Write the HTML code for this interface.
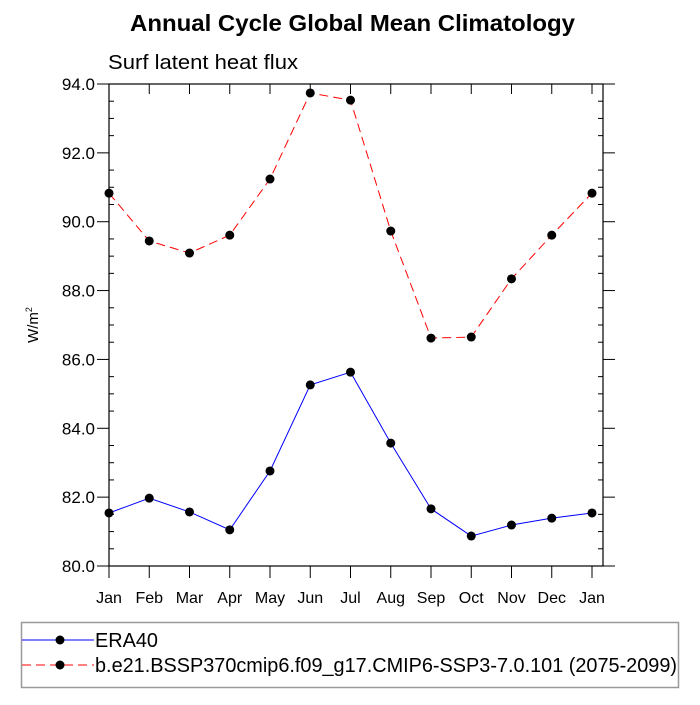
<!DOCTYPE html>
<html><head><meta charset="utf-8"><style>
body{margin:0;background:#fff;font-family:"Liberation Sans",sans-serif}
</style></head><body>
<svg id="c" width="700" height="700" xmlns="http://www.w3.org/2000/svg" font-family="Liberation Sans, sans-serif">
<text x="130" y="31" textLength="445" lengthAdjust="spacingAndGlyphs" font-size="23" font-weight="bold">Annual Cycle Global Mean Climatology</text>
<text x="108" y="69" textLength="190" lengthAdjust="spacingAndGlyphs" font-size="20">Surf latent heat flux</text>
<text transform="translate(38,325) rotate(-90)" text-anchor="middle" font-size="15">W/m<tspan font-size="9" dy="-6">2</tspan></text>
<g id="axes"></g>
<g id="series"></g>
<g>
<rect x="21.5" y="622.5" width="657" height="65" fill="none" stroke="#999" stroke-width="1.5"/>
<line x1="22" y1="640" x2="94" y2="640" stroke="#0000ff" stroke-width="1"/>
<circle cx="60" cy="640" r="4.5" fill="#000"/>
<text x="95" y="647" textLength="63" lengthAdjust="spacingAndGlyphs" font-size="20">ERA40</text>
<line x1="22" y1="665" x2="94" y2="665" stroke="#ff0000" stroke-width="1" stroke-dasharray="9,5"/>
<circle cx="60" cy="665" r="4.5" fill="#000"/>
<text x="95" y="672" textLength="582" lengthAdjust="spacingAndGlyphs" font-size="20">b.e21.BSSP370cmip6.f09_g17.CMIP6-SSP3-7.0.101 (2075-2099)</text>
</g>
</svg>
<script>
const months=["Jan","Feb","Mar","Apr","May","Jun","Jul","Aug","Sep","Oct","Nov","Dec","Jan"];
const era40=[81.54,81.97,81.57,81.05,82.76,85.26,85.63,83.57,81.66,80.87,81.19,81.39,81.54];
const model=[90.83,89.44,89.09,89.61,91.24,93.74,93.53,89.73,86.62,86.65,88.34,89.61,90.83];
const yTicks=[80,82,84,86,88,90,92,94];
const NS="http://www.w3.org/2000/svg";
const L=109,R=603,T=84,B=566;
const x=i=>L+i*40.25;
const y=v=>B-(v-80)/14*(B-T);
function mk(tag,attrs,parent){const e=document.createElementNS(NS,tag);for(const k in attrs)e.setAttribute(k,attrs[k]);parent.appendChild(e);return e;}
const ax=document.getElementById('axes');
const frame=mk('rect',{x:L,y:T,width:R-L,height:B-T,fill:'none',stroke:'#000','stroke-width':1.2},ax);


months.forEach((m,i)=>{
  mk('line',{x1:x(i),x2:x(i),y1:B,y2:B+12,stroke:'#000'},ax);
  mk('line',{x1:x(i),x2:x(i),y1:T,y2:T+10,stroke:'#000'},ax);
  const t=mk('text',{x:x(i),y:B+37,'text-anchor':'middle','font-size':16},ax);
  t.textContent=m;
  
  
});
for(let v=80;v<=94.001;v+=0.5){
  const major=Math.abs(v/2-Math.round(v/2))<1e-6;
  if(major){
    mk('line',{x1:L-12,x2:L,y1:y(v),y2:y(v),stroke:'#000'},ax);
    mk('line',{x1:R,x2:R+12,y1:y(v),y2:y(v),stroke:'#000'},ax);
  }else{
    mk('line',{x1:L,x2:L+5,y1:y(v),y2:y(v),stroke:'#000'},ax);
    mk('line',{x1:R-5,x2:R,y1:y(v),y2:y(v),stroke:'#000'},ax);
  }
}
yTicks.forEach(v=>{
  const t=mk('text',{x:L-14,y:y(v)+6,'text-anchor':'end','font-size':17},ax);
  t.textContent=v.toFixed(1);
  
  
});
const sg=document.getElementById('series');
function series(data,color,dash,name){
  const g=mk('g',{},sg);
  
  
  const p=mk('polyline',{points:data.map((v,i)=>x(i)+','+y(v)).join(' '),fill:'none',stroke:color,'stroke-width':1,'stroke-dasharray':dash},g);
  
  
  data.forEach((v,i)=>{
    const c=mk('circle',{cx:x(i),cy:y(v),r:4.5,fill:'#000'},g);
    
    
  });
}
series(era40,'#0000ff','none','era40-series');
series(model,'#ff0000','9,5','model-series');
</script>
</body></html>
